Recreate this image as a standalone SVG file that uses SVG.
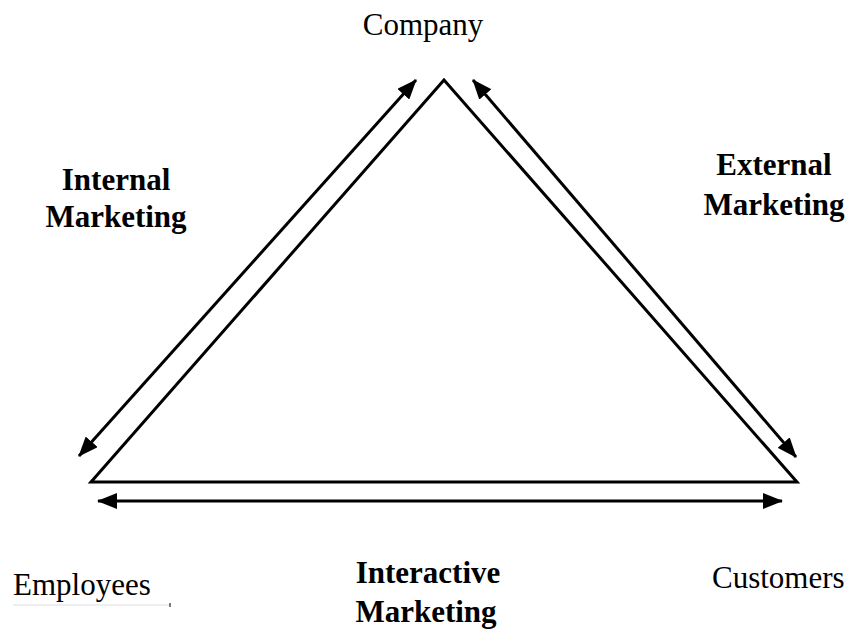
<svg xmlns="http://www.w3.org/2000/svg" width="853" height="631" viewBox="0 0 853 631">
<style>
.reg{font-family:"Liberation Serif","Times New Roman",serif;font-size:31px;fill:#000}
.bold{font-family:"Liberation Serif","Times New Roman",serif;font-size:31px;font-weight:bold;fill:#000;text-anchor:middle}
.edge{stroke:#000;stroke-width:3;fill:none}
</style>
<defs>
<marker id="ah" markerUnits="userSpaceOnUse" markerWidth="20" markerHeight="16" refX="19" refY="8" orient="auto-start-reverse" viewBox="0 0 20 16">
<path d="M0,0 L20,8 L0,16 z" fill="#000"/>
</marker>
</defs>
<rect width="853" height="631" fill="#fff"/>
<g id="triangle">
<polygon points="444,80 91,482 797,482" fill="none" stroke="#000" stroke-width="3" stroke-linejoin="miter"/>
</g>
<g id="connectors">
<line class="edge" x1="416" y1="80" x2="79" y2="456" marker-start="url(#ah)" marker-end="url(#ah)"/>
<line class="edge" x1="473" y1="80" x2="796" y2="457" marker-start="url(#ah)" marker-end="url(#ah)"/>
<line class="edge" x1="98" y1="501" x2="782" y2="501" marker-start="url(#ah)" marker-end="url(#ah)"/>
</g>
<g id="company"><text class="reg" x="423" y="35" text-anchor="middle">Company</text></g>
<g id="employees">
<text class="reg" x="13" y="595">Employees</text>
<line x1="13" y1="605" x2="170" y2="605" stroke="#ddd" stroke-width="1"/>
<line x1="170" y1="603" x2="170" y2="607" stroke="#000" stroke-width="1"/>
</g>
<g id="customers"><text class="reg" x="712" y="588">Customers</text></g>
<g id="internal"><text class="bold" x="116" y="190">Internal</text><text class="bold" x="116" y="227">Marketing</text></g>
<g id="external"><text class="bold" x="774" y="175">External</text><text class="bold" x="774" y="215">Marketing</text></g>
<g id="interactive"><text class="bold" x="428" y="583">Interactive</text><text class="bold" x="426" y="622">Marketing</text></g>
</svg>
